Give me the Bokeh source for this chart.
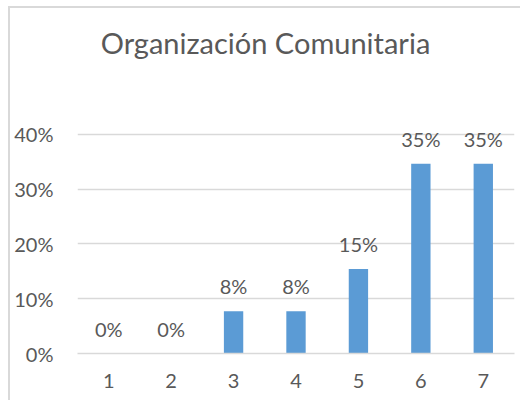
from bokeh.plotting import figure
from bokeh.models import ColumnDataSource, LabelSet, Label, FactorRange, Range1d, NumeralTickFormatter, FixedTicker
from bokeh.core.properties import value
from bokeh.embed import file_html
from bokeh.resources import INLINE

categories = ["1", "2", "3", "4", "5", "6", "7"]
values = [0.0, 0.0, 0.077, 0.077, 0.154, 0.346, 0.346]
labels = ["0%", "0%", "8%", "8%", "15%", "35%", "35%"]
y_ticks = [0.0, 0.1, 0.2, 0.3, 0.4]
title = "Organización Comunitaria"

FONT = "Lato"
TXT = "#595959"
GRID = "#d9d9d9"
BAR = "#5b9bd5"

src = ColumnDataSource(dict(x=categories, top=values, label=labels))

p = figure(
    x_range=FactorRange(factors=categories, range_padding=0),
    y_range=Range1d(0, 0.6294),
    width=512, height=394,
    output_backend="svg", toolbar_location=None,
    min_border_left=67, min_border_right=8, min_border_top=0, min_border_bottom=49,
)
p.styles = {
    "margin-left": "8px", "margin-top": "6px",
    "border-left": "2px solid #d9d9d9", "border-top": "2px solid #d9d9d9",
}

p.vbar(x="x", top="top", width=0.31, source=src, color=BAR, line_color=None)

p.add_layout(LabelSet(x="x", y="top", text="label", source=src,
                      text_align="center", text_baseline="middle", y_offset=25,
                      text_font=value(FONT), text_font_size=value("20px"), text_color=value(TXT)))

p.add_layout(Label(x=188, y=311, x_units="screen", y_units="screen", text=title,
                   text_align="center", text_baseline="alphabetic",
                   text_font=FONT, text_font_size="29px", text_color=TXT))

p.outline_line_color = None
p.xgrid.grid_line_color = None
p.ygrid.grid_line_color = GRID
p.ygrid.grid_line_width = 1.5
p.yaxis.ticker = FixedTicker(ticks=y_ticks)
p.yaxis.formatter = NumeralTickFormatter(format="0%")

for ax in (p.xaxis[0], p.yaxis[0]):
    ax.axis_line_color = None
    ax.major_tick_line_color = None
    ax.minor_tick_line_color = None
    ax.major_tick_out = 0
    ax.major_tick_in = 0
    ax.minor_tick_out = 0
    ax.minor_tick_in = 0
    ax.major_label_text_font = FONT
    ax.major_label_text_font_size = "20px"
    ax.major_label_text_color = TXT
p.yaxis.major_label_standoff = 24
p.xaxis.major_label_standoff = 20
p.xaxis.axis_line_color = GRID
p.xaxis.axis_line_width = 1.5

open("out.html", "w").write(file_html(p, INLINE))
